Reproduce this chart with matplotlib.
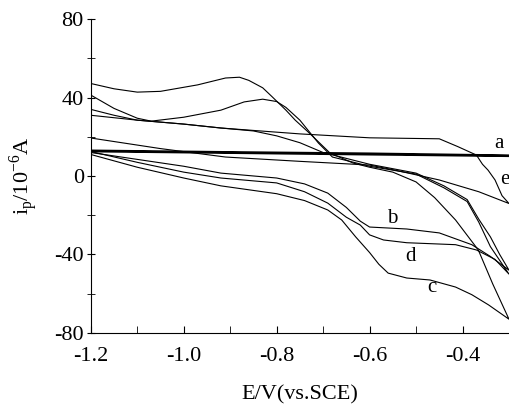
import numpy as np
import matplotlib.pyplot as plt
from matplotlib.ticker import MultipleLocator

plt.rcParams['font.family'] = ['Liberation Serif', 'DejaVu Serif']

# curve a (bare electrode), nearly flat loop
a_x = [-1.2, -0.9, -0.6, -0.3, -0.3, -0.6, -0.9, -1.2]
a_y = [13.0, 12.2, 11.5, 10.5, 10.2, 11.0, 11.8, 12.6]

# curve b: lower branch (left -> right) then upper branch (right -> left)
b_x = [-1.2, -1.1, -1.0, -0.92, -0.8, -0.74, -0.69, -0.65, -0.62, -0.6, -0.52, -0.45, -0.38, -0.34, -0.3,
       -0.32, -0.34, -0.365, -0.39, -0.44, -0.5, -0.6, -0.65, -0.7, -0.75, -0.8, -0.85, -0.92, -1.0, -1.1, -1.15, -1.2]
b_y = [12.0, 8.5, 5.0, 1.5, -1.0, -4.0, -8.7, -16.0, -23.0, -26.0, -27.0, -29.0, -35.0, -41.0, -48.0,
       -40.0, -31.0, -22.0, -12.0, -5.0, 1.5, 6.0, 9.0, 12.0, 17.0, 20.5, 23.0, 24.5, 26.5, 28.5, 31.0, 34.0]

# curve c
c_x = [-1.2, -1.1, -1.0, -0.92, -0.8, -0.74, -0.69, -0.66, -0.63, -0.6, -0.58, -0.56, -0.52, -0.47, -0.415, -0.38, -0.344, -0.3,
       -0.335, -0.366, -0.415, -0.46, -0.5, -0.55, -0.6, -0.635, -0.685, -0.73, -0.76, -0.78, -0.81, -0.83, -0.86, -0.88,
       -0.91, -0.97, -1.05, -1.1, -1.15, -1.2]
c_y = [11.0, 4.5, -1.0, -5.0, -9.0, -12.5, -17.3, -22.4, -31.0, -39.0, -45.0, -49.5, -52.0, -53.0, -56.6, -60.5, -65.7, -73.0,
       -55.0, -37.7, -22.4, -11.0, -3.0, 2.0, 4.5, 6.6, 11.7, 22.0, 28.5, 33.6, 40.5, 45.0, 48.8, 50.4,
       50.0, 46.5, 43.2, 42.8, 44.5, 47.2]

# curve d
d_x = [-1.2, -1.1, -1.0, -0.92, -0.8, -0.74, -0.69, -0.65, -0.62, -0.6, -0.57, -0.52, -0.415, -0.37, -0.33, -0.3,
       -0.34, -0.365, -0.39, -0.44, -0.5, -0.6, -0.68, -0.71, -0.75, -0.78, -0.8, -0.83, -0.87, -0.92, -1.0, -1.07,
       -1.1, -1.15, -1.2]
d_y = [12.5, 7.0, 2.0, -1.0, -3.5, -8.0, -13.8, -21.0, -25.0, -30.0, -32.6, -34.0, -35.0, -37.7, -42.5, -50.0,
       -36.0, -23.5, -13.0, -6.0, 1.0, 5.0, 9.7, 16.8, 28.5, 35.0, 38.0, 39.2, 37.8, 33.6, 30.0, 28.0,
       29.5, 34.5, 41.3]

# curve e
e_x = [-1.2, -1.05, -0.91, -0.75, -0.6, -0.545, -0.45, -0.365, -0.3,
       -0.315, -0.33, -0.345, -0.357, -0.37, -0.41, -0.45, -0.6, -0.75, -0.92, -1.0, -1.1, -1.2]
e_y = [19.4, 14.0, 9.7, 7.5, 5.6, 3.0, -2.0, -8.0, -14.0,
       -10.0, -2.0, 3.0, 6.0, 10.7, 15.0, 19.0, 19.5, 21.5, 24.5, 26.5, 28.5, 31.0]

curves = {'b': (b_x, b_y), 'c': (c_x, c_y), 'd': (d_x, d_y), 'e': (e_x, e_y)}

# label text positions
lab_names = ['a', 'b', 'c', 'd', 'e']
lab_x = [-0.322, -0.551, -0.465, -0.512, -0.299]
lab_y = [16.8, -21.9, -56.6, -40.8, -2.0]
lab_ha = ['center', 'center', 'center', 'center', 'right']

fig = plt.figure(figsize=(5.1, 4.08), dpi=100)
ax = fig.add_axes([0.178, 0.184, 0.82, 0.769])

ax.plot(a_x, a_y, color='black', lw=1.5)
for k, (xs, ys) in curves.items():
    ax.plot(xs, ys, color='black', lw=0.8)

for n, x, y, h in zip(lab_names, lab_x, lab_y, lab_ha):
    ax.text(x, y, n, fontsize=15, ha=h, va='center', clip_on=False)

ax.set_xlim(-1.2, -0.3)
ax.set_ylim(-80, 80)
ax.spines['top'].set_visible(False)
ax.spines['right'].set_visible(False)
ax.xaxis.set_minor_locator(MultipleLocator(0.1))
ax.yaxis.set_minor_locator(MultipleLocator(20))
ax.set_xticks([-1.2, -1.0, -0.8, -0.6, -0.4])
ax.set_xticklabels(['-1.2', '-1.0', '-0.8', '-0.6', '-0.4'])
ax.set_yticks([-80, -40, 0, 40, 80])
ax.set_yticklabels(['-80', '-40', '0', '40', '80'])
ax.tick_params(axis='x', which='both', direction='in', length=5, labelsize=16, pad=10)
ax.tick_params(axis='y', which='both', direction='inout', length=6, labelsize=16, pad=2)

ax.set_xlabel('E/V(vs.SCE)', fontsize=16, labelpad=14)
ax.set_ylabel(r'i$_\mathregular{p}$/10$^\mathregular{-6}$A', fontsize=16, labelpad=10)

fig.savefig('out.png', dpi=100)
